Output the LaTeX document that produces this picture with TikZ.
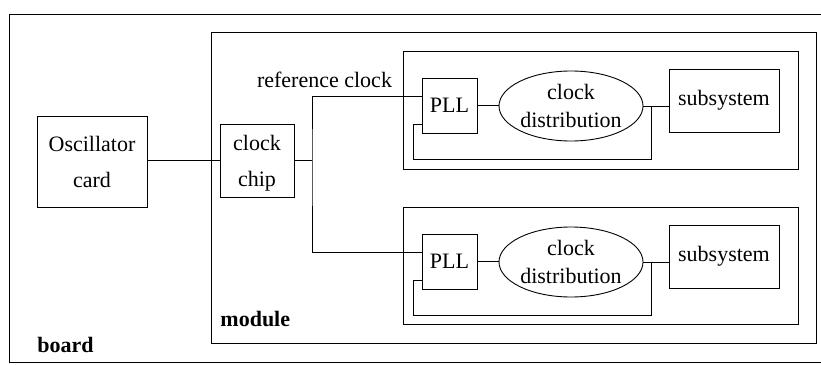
\documentclass[tikz,border=0pt]{standalone}
\usepackage{fontspec}
\setmainfont{Liberation Serif}
\usetikzlibrary{shapes.geometric,calc}
\begin{document}
\begin{tikzpicture}[x=1pt,y=-1pt,line width=0.9pt,
  font=\fontsize{22}{36}\selectfont,
  box/.style={draw,rectangle,inner sep=0pt,align=center},
  oval/.style={draw,ellipse,inner sep=0pt,align=center,minimum width=144pt,minimum height=70pt,font=\fontsize{22}{28}\selectfont},
  frame/.style={draw},
  lbl/.style={inner sep=0pt,font=\fontsize{22}{26}\selectfont\bfseries}]
\useasboundingbox (0,0) rectangle (821,364);
\clip (0,0) rectangle (821,364);
% frames
\draw[frame] (9,14) rectangle (840,362);
\draw[frame] (211,32) rectangle (816,343);
\draw[frame] (403,51) rectangle (798,169);
\draw[frame] (403,207) rectangle (798,324);
% nodes
\node[box,minimum width=110pt,minimum height=91pt] (osc) at (92,161.5) {Oscillator\\card};
\node[box,minimum width=74pt,minimum height=73pt] (chip) at (257,160.5) {clock\\\raisebox{0pt}[\height][0pt]{chip}};
\node[box,minimum width=55pt,minimum height=55pt] (pll1) at (449.5,105.5) {PLL};
\node[box,minimum width=55pt,minimum height=55pt] (pll2) at (449.5,261.5) {PLL};
\node[oval] (dist1) at (571,106) {clock\\distribution};
\node[oval] (dist2) at (571,262) {clock\\distribution};
\node[box,minimum width=110pt,minimum height=63pt] (sub1) at (724,100.5) {subsystem};
\node[box,minimum width=110pt,minimum height=63pt] (sub2) at (724,256.5) {subsystem};
% labels
\node[inner sep=0pt,anchor=base] (ref) at (324.5,87) {reference clock};
\node[lbl,anchor=base west] (mod) at (220,326) {module};
\node[lbl,anchor=base west] (brd) at (37,352) {board};
% coordinates
\coordinate (br) at (312,160.5);
\coordinate (r1) at ($(pll1.west)+(0,-9.5)$);
\coordinate (r2) at ($(pll2.west)+(0,-9.5)$);
\coordinate (j1) at (651,106);
\coordinate (j2) at (651,262);
\coordinate (f1) at (413,159);
\coordinate (f2) at (413,315);
\coordinate (p1) at ($(pll1.west)+(0,18.5)$);
\coordinate (p2) at ($(pll2.west)+(0,18.5)$);
% connectors
\draw (osc.east |- chip.west) -- (chip.west);
\draw (chip.east) -- (br);
\draw (r1) -| (br) |- (r2);
\draw (pll1.east) -- (pll1.east -| dist1.west);
\draw (pll2.east) -- (pll2.east -| dist2.west);
\draw (dist1.east) -- (dist1.east -| sub1.west);
\draw (dist2.east) -- (dist2.east -| sub2.west);
\draw (j1) |- (f1) |- (p1);
\draw (j2) |- (f2) |- (p2);
\end{tikzpicture}
\end{document}
